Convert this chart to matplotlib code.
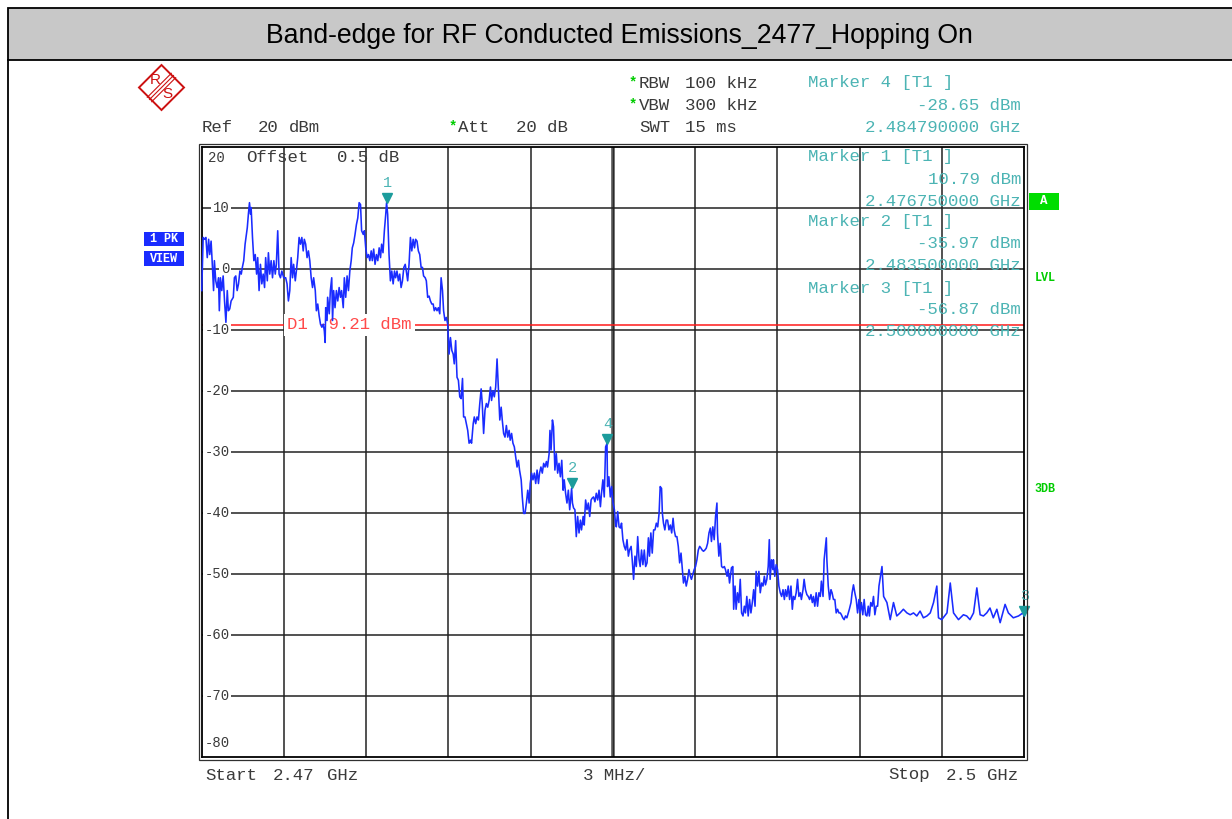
import matplotlib
matplotlib.use("Agg")
import matplotlib.pyplot as plt
from matplotlib.patches import Rectangle, Polygon
from matplotlib.lines import Line2D
from matplotlib.transforms import offset_copy

# ---------------- data ----------------
title = "Band-edge for RF Conducted Emissions_2477_Hopping On"
start_ghz = 2.47
stop_ghz = 2.50
ref_level_dbm = 20
bottom_level_dbm = -80
x_div_ghz = 0.003
y_div_db = 10
display_line_dbm = -9.21

# sweep trace: frequency offset from start (MHz) and level (dBm)
offset_mhz = [
    0.01, 0.06, 0.11, 0.16, 0.21, 0.26, 0.30, 0.35, 0.40, 0.44, 0.47, 0.52, 0.57, 0.62, 0.65, 0.69,
    0.74, 0.79, 0.84, 0.89, 0.94, 0.98, 1.03, 1.08, 1.16, 1.20, 1.25, 1.30, 1.35, 1.40, 1.45, 1.49,
    1.54, 1.59, 1.67, 1.71, 1.75, 1.79, 1.81, 1.86, 1.91, 1.96, 2.01, 2.05, 2.10, 2.15, 2.20, 2.25,
    2.30, 2.34, 2.40, 2.44, 2.49, 2.54, 2.59, 2.64, 2.69, 2.73, 2.78, 2.83, 2.88, 2.93, 3.00, 3.07,
    3.12, 3.17, 3.22, 3.27, 3.32, 3.36, 3.42, 3.46, 3.51, 3.56, 3.61, 3.66, 3.71, 3.75, 3.80, 3.85,
    3.90, 3.95, 4.00, 4.05, 4.09, 4.15, 4.19, 4.24, 4.29, 4.34, 4.39, 4.44, 4.48, 4.51,
    4.53, 4.58, 4.60, 4.66, 4.70, 4.75, 4.78, 4.82, 4.87, 4.92, 4.97, 5.02, 5.07, 5.11, 5.17, 5.21,
    5.26, 5.31, 5.36, 5.41, 5.46, 5.50, 5.55, 5.60, 5.65, 5.70, 5.75, 5.80, 5.84, 5.90, 5.94, 5.99,
    6.04, 6.09, 6.14, 6.19, 6.23, 6.28, 6.33, 6.38, 6.43, 6.48, 6.53, 6.57, 6.62, 6.67, 6.72, 6.75,
    6.79, 6.84, 6.89, 6.94, 6.99, 7.04, 7.08, 7.13, 7.18, 7.23, 7.28, 7.33, 7.38, 7.43, 7.47, 7.52,
    7.57, 7.62, 7.67, 7.72, 7.77, 7.81, 7.86, 7.91, 7.96, 8.01, 8.06, 8.10, 8.16, 8.20, 8.25, 8.30,
    8.35, 8.40, 8.45, 8.49, 8.54, 8.59, 8.64, 8.69, 8.74, 8.79, 8.83, 8.88, 8.93, 8.98,
    9.03, 9.08, 9.13, 9.18, 9.22, 9.27, 9.32, 9.37, 9.42, 9.47, 9.52, 9.56, 9.61, 9.66, 9.71, 9.76,
    9.81, 9.85, 9.91, 9.95, 10.00, 10.05, 10.10, 10.15, 10.20, 10.24, 10.29, 10.34, 10.39, 10.44,
    10.49, 10.54, 10.58, 10.63, 10.68, 10.73, 10.78, 10.83, 10.88, 10.93, 10.97, 11.02, 11.07,
    11.12, 11.17, 11.22, 11.26, 11.31, 11.36, 11.41, 11.46, 11.51, 11.56, 11.60, 11.66, 11.70,
    11.75, 11.80, 11.85, 11.90, 11.95, 11.99, 12.04, 12.09, 12.14, 12.19, 12.24, 12.29, 12.33,
    12.38, 12.43, 12.48, 12.53, 12.58, 12.62, 12.68, 12.71,
    12.75, 12.80, 12.84, 12.89, 12.94, 12.99, 13.04, 13.09, 13.14, 13.19, 13.23, 13.28, 13.33,
    13.38, 13.43, 13.50, 13.53, 13.57, 13.62, 13.67, 13.72, 13.77, 13.82, 13.86, 13.92, 13.96,
    14.01, 14.06, 14.11, 14.16, 14.21, 14.25, 14.30, 14.35, 14.40, 14.45, 14.50, 14.55, 14.59,
    14.64, 14.69, 14.74, 14.79, 14.81, 14.86, 14.91, 14.96, 15.01, 15.06, 15.10,
    15.13, 15.18, 15.23, 15.28, 15.32, 15.37, 15.42, 15.47, 15.52, 15.57, 15.61, 15.67, 15.71,
    15.76, 15.81, 15.86, 15.91, 15.96, 16.00, 16.05, 16.10, 16.15, 16.20, 16.25, 16.30, 16.34,
    16.39, 16.44, 16.49, 16.54, 16.59, 16.64, 16.69, 16.73, 16.78, 16.81, 16.85, 16.90, 16.95,
    17.00, 17.05, 17.10, 17.15, 17.20, 17.24, 17.29, 17.34, 17.39, 17.44, 17.49, 17.54, 17.58,
    17.63, 17.68, 17.73, 17.78, 17.83, 17.87, 17.93, 17.97, 18.02, 18.07, 18.12, 18.17, 18.22,
    18.26, 18.31, 18.36, 18.41, 18.46, 18.51, 18.56, 18.60, 18.65, 18.70, 18.75, 18.80, 18.82,
    18.87, 18.92, 18.97, 19.02, 19.07, 19.11, 19.17, 19.21, 19.26,
    19.33, 19.38, 19.41, 19.46, 19.50, 19.55, 19.60, 19.65, 19.70, 19.75, 19.80, 19.84, 19.89,
    19.94, 19.99, 20.04, 20.09, 20.14, 20.19, 20.23, 20.28, 20.33, 20.38, 20.43, 20.48, 20.53,
    20.57, 20.62, 20.67, 20.71, 20.74, 20.79, 20.84, 20.86, 20.91, 20.96, 21.01, 21.06, 21.11,
    21.16, 21.21, 21.26, 21.30, 21.35, 21.40, 21.45, 21.50, 21.55, 21.59, 21.64, 21.69, 21.74,
    21.79, 21.84, 21.88, 21.94, 21.98, 22.03, 22.08, 22.13, 22.18, 22.23, 22.28, 22.32, 22.37,
    22.42, 22.47, 22.52, 22.57, 22.61, 22.67, 22.71, 22.76, 22.79, 22.81, 22.86, 22.91, 22.96,
    23.00, 23.05, 23.10, 23.15, 23.20, 23.25, 23.30, 23.34, 23.39, 23.44, 23.49, 23.54, 23.59,
    23.63, 23.69, 23.73, 23.78, 23.83, 23.88, 23.93, 23.98, 24.02, 24.07, 24.12, 24.17, 24.22,
    24.27, 24.32, 24.36, 24.41, 24.46, 24.51, 24.56, 24.61, 24.66, 24.71,
    24.82, 24.88, 25.00, 25.12, 25.24, 25.36, 25.48, 25.60, 25.73, 25.85, 25.97, 26.09, 26.21,
    26.33, 26.46, 26.58, 26.70, 26.82, 26.88, 27.00, 27.19, 27.31, 27.43, 27.61, 27.79, 27.91,
    28.03, 28.16, 28.28, 28.40, 28.52, 28.64, 28.76, 28.88, 29.01, 29.13, 29.31, 29.43, 29.61,
    29.80, 29.96, 30.00,
]
level_dbm = [
    -3.6, 5.1, 4.8, 5.1, 1.8, 4.8, 2.3, 4.5, 0.2, -3.6, 1.3, -2.0, -3.1, -1.5, -6.9, -1.5,
    -3.6, -1.2, -5.3, -8.8, -3.6, -6.9, -6.6, -5.3, -4.7, -1.5, -1.2, -3.6, -2.5, -0.4, -0.9, 0.2,
    1.3, 4.0, 6.7, 8.9, 10.8, 8.9, 10.0, 5.1, 1.3, 2.3, -0.9, 1.8, -3.6, 0.7, -2.5, -0.9,
    -3.1, 1.8, -2.0, 2.6, -0.9, 1.3, -1.5, 1.3, -0.9, 0.7, 6.2, -0.9, -1.5, -0.4, -1.5, -1.5,
    -2.5, -5.3, -3.6, 1.8, -1.5, 0.7, -2.0, -0.4, 1.8, 5.1, 4.0, 5.1, 2.9, 4.8, 4.0, 1.8,
    2.9, 1.3, -1.5, -3.1, -1.5, -3.6, -6.9, -5.8, -7.7, -9.1, -9.6, -9.1, -10.2, -12.1,
    -6.4, -8.5, -4.7, -7.4, -3.6, -1.5, -8.5, -3.6, -6.4, -3.6, -5.3, -3.1, -4.7, -3.6, -6.4, -1.5,
    -4.7, -1.2, -3.6, -0.4, 1.3, 3.4, 4.2, 5.6, 7.2, 8.3, 10.8, 10.5, 6.2, 5.6, 6.2, 3.4,
    1.8, 2.3, 1.3, 2.9, 1.3, 3.2, 0.7, 2.3, 1.3, 3.4, 1.8, 4.0, 2.6, 6.2, 8.9, 10.79,
    8.9, 2.3, -2.0, -0.4, -2.5, -0.4, -1.5, -0.4, -2.0, -0.9, -3.1, -2.0, 0.2, 0.7, -0.4, -2.0,
    0.7, 5.1, 2.9, 4.8, 3.4, 4.8, 4.5, 2.9, 2.3, 0.2, 0.2, -1.2, -1.5, -2.0, -4.7, -4.5,
    -5.3, -5.8, -5.8, -6.9, -6.4, -6.9, -6.4, -7.4, -1.5, -3.6, -6.9, -8.5, -8.0, -9.1,
    -14.0, -11.3, -13.4, -14.0, -15.6, -11.8, -17.8, -18.3, -21.0, -21.3, -18.0, -24.3, -24.3, -25.4, -26.5, -28.6,
    -28.1, -28.6, -25.4, -24.3, -25.4, -24.3, -24.8, -22.1, -19.7, -22.1, -27.0, -23.2, -22.1, -22.7,
    -21.6, -19.4, -21.6, -20.0, -21.0, -19.4, -14.8, -20.0, -24.8, -22.7, -24.8, -27.0, -27.6,
    -25.7, -27.6, -26.5, -28.1, -27.0, -28.6, -29.2, -30.8, -32.5, -31.4, -33.0, -34.6, -37.4,
    -40.1, -40.1, -38.4, -36.3, -38.4, -35.2, -33.5, -34.6, -33.5, -35.2, -33.0, -35.2, -33.5,
    -32.5, -33.5, -31.9, -32.5, -31.6, -32.5, -30.3, -26.5,
    -29.7, -24.8, -25.9, -33.0, -30.3, -33.5, -31.9, -34.1, -31.4, -36.3, -34.6, -36.8, -38.4,
    -36.3, -39.5, -35.97, -38.4, -39.2, -39.5, -43.9, -40.6, -43.3, -41.2, -42.8, -40.6, -42.0,
    -37.9, -39.5, -38.4, -40.6, -37.9, -37.6, -37.4, -38.2, -36.8, -37.9, -36.3, -39.0, -36.8,
    -34.6, -37.4, -29.2, -28.65, -35.7, -34.1, -37.4, -35.7, -38.4, -39.5, -41.7,
    -42.3, -39.8, -42.3, -42.5, -41.7, -44.4, -45.5, -46.1, -44.4, -47.1, -46.1, -45.5, -47.7,
    -50.9, -47.1, -48.8, -43.9, -47.7, -48.8, -46.1, -48.5, -46.1, -48.8, -48.2, -44.1, -47.1,
    -43.3, -46.6, -42.8, -42.8, -41.7, -42.3, -40.1, -35.7, -36.0, -40.1, -41.7, -42.8, -41.2,
    -41.2, -42.8, -42.0, -43.3, -40.9, -42.8, -43.9, -43.9, -45.5, -48.2, -46.6, -49.3, -51.5,
    -50.4, -52.0, -50.9, -49.3, -50.4, -50.9, -49.9, -49.3, -48.8, -47.7, -46.1, -45.5, -45.8,
    -46.1, -46.3, -46.1, -45.8, -45.0, -43.3, -42.5, -44.7, -42.3, -44.4, -40.6, -38.4, -43.3,
    -47.1, -45.0, -48.8, -49.0, -48.8, -49.3, -50.4, -49.3, -51.5,
    -49.0, -48.8, -55.8, -52.0, -55.8, -53.1, -54.7, -50.9, -56.4, -56.9, -55.3, -56.4, -53.7,
    -56.9, -54.2, -56.4, -54.7, -52.6, -55.3, -49.6, -52.0, -49.6, -53.1, -51.5, -52.0, -50.4,
    -51.8, -50.9, -48.8, -44.4, -50.9, -47.7, -49.3, -47.7, -50.4, -48.5, -49.3, -52.0, -53.1,
    -53.7, -52.6, -54.2, -52.6, -53.7, -52.0, -54.2, -52.0, -55.8, -53.7, -54.2, -53.1, -50.9,
    -53.7, -53.1, -54.2, -52.6, -50.9, -52.6, -53.4, -53.7, -54.2, -53.4, -54.7, -53.7, -55.3,
    -53.1, -55.3, -53.1, -53.7, -51.2, -53.7, -47.7, -45.5, -44.1, -47.7, -52.0, -54.2, -52.6,
    -53.1, -54.2, -54.2, -56.4, -55.8, -56.4, -56.4, -56.7, -57.2, -57.5, -56.9, -57.2, -56.4,
    -55.8, -54.7, -53.1, -51.8, -53.1, -54.2, -56.4, -54.2, -56.4, -54.7, -56.7, -54.2, -56.7,
    -56.9, -55.3, -56.9, -54.7, -55.3, -53.7, -56.7, -55.3, -55.3, -52.0,
    -48.8, -53.7, -54.7, -57.5, -54.7, -56.9, -56.4, -55.8, -56.4, -56.7, -56.4, -56.9, -56.1,
    -57.2, -56.9, -56.4, -54.7, -52.0, -57.2, -57.5, -56.4, -51.5, -56.4, -57.5, -56.7, -56.9,
    -57.5, -56.4, -52.3, -56.7, -56.9, -56.4, -55.6, -57.2, -55.8, -58.0, -55.0, -56.4, -57.2,
    -56.9, -56.4, -56.87,
]

marker_ids = ["1", "2", "3", "4"]
marker_freq_ghz = [2.47675, 2.4835, 2.500, 2.48479]
marker_level_dbm = [10.79, -35.97, -56.87, -28.65]

y_tick_values = [20, 10, 0, -10, -20, -30, -40, -50, -60, -70, -80]

rbw_text = "100 kHz"
vbw_text = "300 kHz"
swt_text = "15 ms"
att_text = "20 dB"
offset_text = "0.5 dB"

# ---------------- figure ----------------
W, H = 1232, 819
fig = plt.figure(figsize=(W / 100, H / 100), dpi=100)
fig.patch.set_facecolor("white")


def fx(x):
    return x / W


def fy(y):
    return 1 - y / H


MONO = "Liberation Mono"
GRAY_TXT = "#3a3a3a"
TEAL_TXT = "#4cb4b4"
TEAL_MK = "#1c9c9c"
GREEN = "#00cc00"
BLUE = "#1a2cff"
RED = "#ff1a1a"

# outer frame and title bar
fig.add_artist(Rectangle((fx(8), fy(60)), 1.2, (60 - 8) / H, transform=fig.transFigure,
                         facecolor="#c8c8c8", edgecolor="black", lw=1.3, zorder=0))
fig.add_artist(Line2D([fx(8), fx(8)], [fy(60), -0.1], transform=fig.transFigure,
                      color="black", lw=1.3))
fig.text(fx(619), fy(36), title, ha="center", va="center", fontsize=19.2,
         family="Liberation Sans", color="black")

# plot area
L, R, T, B = 201.5, 1024, 146.5, 757
ax = fig.add_axes([fx(L), fy(B), (R - L) / W, (B - T) / H])
ax.set_xlim(start_ghz, stop_ghz)
ax.set_ylim(bottom_level_dbm, ref_level_dbm)
ax.set_xticks([])
ax.set_yticks([])
for s in ax.spines.values():
    s.set_linewidth(1.3)
    s.set_color("black")
    s.set_zorder(2.5)
# second outline (double frame)
fig.add_artist(Rectangle((fx(L - 2.5), fy(B + 2.5)), (R - L + 5) / W, (B - T + 5) / H,
                         transform=fig.transFigure, fill=False, edgecolor="#303030", lw=0.9))

# grid
n_x = int(round((stop_ghz - start_ghz) / x_div_ghz))
for i in range(1, n_x):
    xv = start_ghz + i * x_div_ghz
    if i == n_x // 2:
        ax.axvline(xv, color="#555555", lw=2.6, zorder=1)
        ax.axvline(xv, color="#222222", lw=0.6, zorder=1)
    else:
        ax.axvline(xv, color="#222222", lw=1.1, zorder=1)
for yv in range(bottom_level_dbm + y_div_db, ref_level_dbm, y_div_db):
    ax.axhline(yv, color="#222222", lw=1.1, zorder=1)

# y level labels inside the grid
for yv in y_tick_values:
    if yv == ref_level_dbm:
        continue
    if yv == bottom_level_dbm:
        ax.annotate(str(yv), xy=(start_ghz, yv), xytext=(28, 14), textcoords="offset pixels",
                    ha="right", va="center", fontsize=10, family=MONO, color=GRAY_TXT, zorder=2.2)
        continue
    ax.annotate(str(yv), xy=(start_ghz, yv), xytext=(28, 0), textcoords="offset pixels",
                ha="right", va="center", fontsize=10, family=MONO, color=GRAY_TXT, zorder=2.2,
                bbox=dict(boxstyle="square,pad=0.12", fc="white", ec="none"))
fig.text(fx(208), fy(158), str(ref_level_dbm), ha="left", va="center", fontsize=10,
         family=MONO, color=GRAY_TXT)
fig.text(fx(246), fy(158), "Offset", ha="left", va="center", fontsize=12.5, family=MONO, color=GRAY_TXT)
fig.text(fx(337), fy(158), offset_text, ha="left", va="center", fontsize=12.5, family=MONO,
         color=GRAY_TXT)

# display line D1
ax.axhline(display_line_dbm, color=RED, lw=1.1, zorder=2)
ax.annotate(f"D1 {display_line_dbm:.2f} dBm", xy=(start_ghz + 0.00299, display_line_dbm),
            xytext=(4, 0), textcoords="offset pixels", ha="left", va="center",
            fontsize=12.5, family=MONO, color="#ff4a4a", zorder=2.3,
            bbox=dict(boxstyle="square,pad=0.2", fc="white", ec="none"))

# trace
freq_ghz = [start_ghz + o / 1000.0 for o in offset_mhz]
ax.plot(freq_ghz, level_dbm, color=BLUE, lw=1.15, zorder=4, clip_on=False)

# markers
tri_tr = offset_copy(ax.transData, fig=fig, x=0, y=5, units="dots")
for mid, mf, ml in zip(marker_ids, marker_freq_ghz, marker_level_dbm):
    ax.plot([mf], [ml], marker="v", ms=7.5, color=TEAL_MK, mec=TEAL_MK,
            transform=tri_tr, zorder=5, clip_on=False)
    ax.annotate(mid, xy=(mf, ml), xytext=(1, 20), textcoords="offset pixels",
                ha="center", va="center", fontsize=11, family=MONO, color=TEAL_TXT,
                zorder=5, annotation_clip=False)

# header parameters
def txt(x, y, s, color=GRAY_TXT, size=12.5, ha="left", **kw):
    fig.text(fx(x), fy(y), s, ha=ha, va="center", fontsize=size, family=MONO, color=color, **kw)


txt(202, 127, "Ref")
txt(258, 127, f"{ref_level_dbm}")
txt(289, 127, "dBm")
txt(449, 126, "*", color=GREEN, size=10, weight="bold")
txt(458, 127, "Att")
txt(516, 127, att_text)
txt(629, 82, "*", color=GREEN, size=10, weight="bold")
txt(639, 83, "RBW")
txt(685, 83, rbw_text)
txt(629, 104, "*", color=GREEN, size=10, weight="bold")
txt(639, 105, "VBW")
txt(685, 105, vbw_text)
txt(639, 127, "SWT")
txt(685, 127, swt_text)

# marker info blocks (marker 4 first, then 1, 2, 3)
order = [3, 0, 1, 2]
block_y = [83, 157, 222, 288]
for k, idx in enumerate(order):
    y0 = block_y[k]
    txt(808, y0, f"Marker {marker_ids[idx]} [T1 ]", color=TEAL_TXT)
    txt(1021, y0 + 22, f"{marker_level_dbm[idx]:.2f} dBm", color=TEAL_TXT, ha="right")
    txt(1021, y0 + 44, f"{marker_freq_ghz[idx]:.9f} GHz", color=TEAL_TXT, ha="right")

# footer
txt(205, 775, "Start")
txt(273, 775, f"{start_ghz:g}")
txt(327, 775, "GHz")
txt(583, 775, f"{x_div_ghz * 1000:g} MHz/")
txt(888, 775, "Stop")
txt(946, 775, f"{stop_ghz:g}")
txt(987, 775, "GHz")

# left status boxes
for (y0, y1, s) in [(232, 246, "1 PK"), (251, 266, "VIEW")]:
    fig.add_artist(Rectangle((fx(144), fy(y1)), 40 / W, (y1 - y0) / H, transform=fig.transFigure,
                             facecolor="#1a2cff", edgecolor="none"))
    fig.text(fx(164), fy((y0 + y1) / 2), s, ha="center", va="center", fontsize=8.5,
             family=MONO, weight="bold", color="white")

# right status indicators
fig.add_artist(Rectangle((fx(1029), fy(210)), 30 / W, 17 / H, transform=fig.transFigure,
                         facecolor="#00dd00", edgecolor="none"))
fig.text(fx(1044), fy(201.5), "A", ha="center", va="center", fontsize=9, family=MONO,
         weight="bold", color="white")
fig.text(fx(1045), fy(278), "LVL", ha="center", va="center", fontsize=8.5, family=MONO,
         weight="bold", color=GREEN)
fig.text(fx(1045), fy(489), "3DB", ha="center", va="center", fontsize=8.5, family=MONO,
         weight="bold", color=GREEN)

# R&S logo
cx, cy, r = 161.5, 87.5, 22.5
fig.add_artist(Polygon([(fx(cx - r), fy(cy)), (fx(cx), fy(cy - r)), (fx(cx + r), fy(cy)),
                        (fx(cx), fy(cy + r))], closed=True, transform=fig.transFigure,
                       fill=False, edgecolor="#cc1111", lw=1.4))
for d in (-2.2, 0, 2.2):
    fig.add_artist(Line2D([fx(cx - 12 + d), fx(cx + 12 + d)], [fy(cy + 12 + d), fy(cy - 12 + d)],
                          transform=fig.transFigure, color="#cc1111", lw=0.8))
fig.text(fx(cx - 6), fy(cy - 7), "R", ha="center", va="center", fontsize=11,
         family="Liberation Sans", color="#cc1111")
fig.text(fx(cx + 6), fy(cy + 7), "S", ha="center", va="center", fontsize=11,
         family="Liberation Sans", color="#cc1111")

fig.savefig("out.png", dpi=100)
